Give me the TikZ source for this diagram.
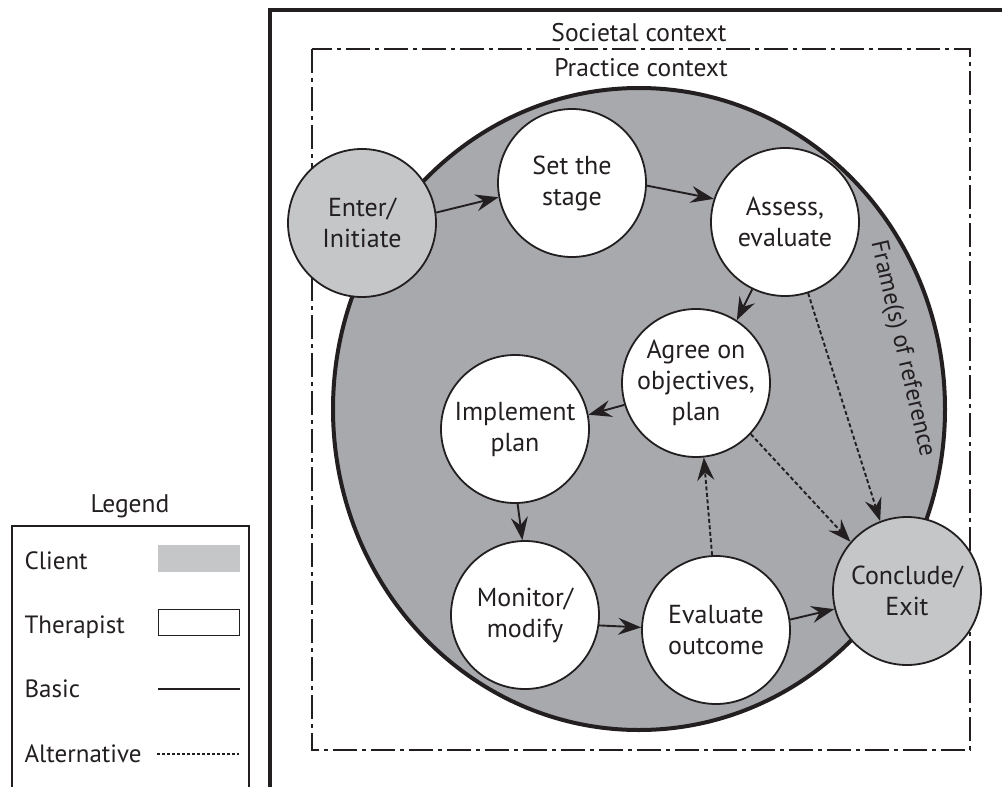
\documentclass[tikz,border=0pt]{standalone}
\usepackage{fontspec}
\setmainfont{PT Sans}
\usetikzlibrary{arrows.meta}
\definecolor{ink}{HTML}{231F20}
\definecolor{bigfill}{HTML}{A7A9AC}
\definecolor{clientfill}{HTML}{C4C6C8}
\begin{document}
\begin{tikzpicture}[x=1pt,y=-1pt,
  every node/.style={font=\fontsize{26}{31}\selectfont, text=ink},
  proc/.style={circle, draw=ink, line width=1.8pt, minimum size=148pt, inner sep=0pt, align=center},
  therapist/.style={proc, fill=white},
  client/.style={proc, fill=clientfill},
  basic/.style={draw=ink, line width=1.9pt, -{Stealth[length=23pt,width=17pt,inset=8pt]}},
  alt/.style={basic, dash pattern=on 4pt off 2.5pt},
  frameline/.style={draw=ink, line width=4pt},
  dashdot/.style={draw=ink, line width=1.8pt, dash pattern=on 24pt off 5pt on 4pt off 5pt},
  legendline/.style={draw=ink, line width=1.5pt},
  ctx/.style={anchor=base, font=\fontsize{25.5}{31}\selectfont},
  lbl/.style={anchor=base west, font=\fontsize{25}{31}\selectfont}
  ]
\useasboundingbox (0,0) rectangle (1002,787);
\fill[white] (0,0) rectangle (1002,787);

% outer frame (societal context)
\draw[frameline] (270,800) -- (270,10) -- (1010,10);
\node[ctx] (societal) at (639,41) {Societal context};

% practice context
\draw[dashdot] (312,49) rectangle (970,750);
\node[ctx] (practice) at (641,76) {Practice context};

% frame(s) of reference
\draw[ink, line width=4pt, fill=bigfill] (639,409) ellipse [x radius=306, y radius=321];
\node[rotate=-77, font=\fontsize{24.5}{31}\selectfont] (frameref) at (902,349) {Frame(s) of reference};

% process nodes
\node[client]    (enter)     at (362,223) {Enter/\\Initiate};
\node[therapist] (set)       at (572,183) {Set the\\stage};
\node[therapist] (assess)    at (785,222) {Assess,\\evaluate};
\node[therapist] (agree)     at (696,383) {Agree on\\objectives,\\plan};
\node[therapist] (implement) at (515,429) {Implement\\plan};
\node[therapist] (monitor)   at (525,615) {Monitor/\\modify};
\node[therapist] (evaluate)  at (716,630) {Evaluate\\outcome};
\node[client]    (conclude)  at (907,591) {Conclude/\\Exit};

% basic connectors
\draw[basic] (enter.8) -- (set.191);
\draw[basic] (set.-2) -- (assess.162);
\draw[basic] (assess.244) -- (agree.57);
\draw[basic] (agree.197) -- (implement.11);
\draw[basic] (implement.-88) -- (monitor.92);
\draw[basic] (monitor.-8) -- (evaluate.178);
\draw[basic] (evaluate.8) -- (conclude.194);

% alternative connectors
\draw[alt] (assess.-72) -- (conclude.111);
\draw[alt] (agree.-43) -- (conclude.139);
\draw[alt] (evaluate.93) -- (agree.-84);

% legend
\node[ctx] (legend) at (130,512) {Legend};
\draw[legendline] (12,800) -- (12,526) -- (249,526) -- (249,800);
\node[lbl] (clientlbl) at (21,569) {Client};
\node[fill=clientfill, minimum width=82pt, minimum height=27pt, inner sep=0pt] (clientkey) at (199,558.5) {};
\node[lbl] (therapistlbl) at (21,633) {Therapist};
\node[draw=ink, line width=1.5pt, fill=white, minimum width=81pt, minimum height=26pt, inner sep=0pt] (therapistkey) at (199,622.5) {};
\node[lbl] (basiclbl) at (21,697) {Basic};
\coordinate (basicA) at (158,689);
\coordinate (basicB) at (240,689);
\draw[ink, line width=1.6pt] (basicA) -- (basicB);
\node[lbl] (altlbl) at (21,762) {Alternative};
\coordinate (altA) at (157,754);
\coordinate (altB) at (239,754);
\draw[ink, line width=1.3pt, dash pattern=on 3pt off 2pt] (altA) -- (altB);
\end{tikzpicture}
\end{document}
